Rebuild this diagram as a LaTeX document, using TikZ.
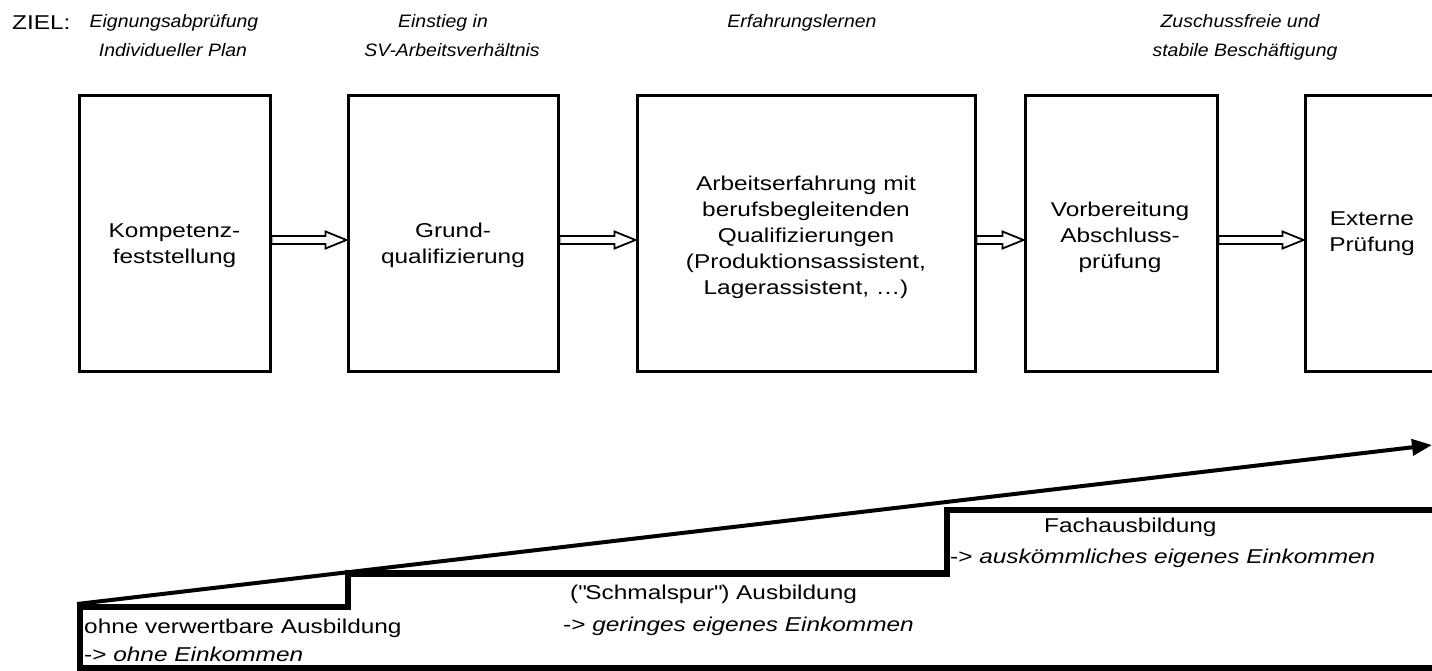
\documentclass[tikz,border=0pt]{standalone}
\usepackage{fontspec}
\setmainfont{Liberation Sans}[FakeStretch=1.22]
\newfontfamily\goalfont{Liberation Sans}[FakeStretch=1.08]
\usetikzlibrary{calc,arrows.meta}
\newcommand\hollowarrow[2]{%
  \draw[arrowbody] let \p1=(#1.east |- ay), \p2=(#2.west |- ay) in
    (\x1,\y1+4pt) -- (\x2-21pt,\y1+4pt) -- (\x2-21pt,\y1+8.5pt) -- (\x2,\y1)
    -- (\x2-21pt,\y1-8.5pt) -- (\x2-21pt,\y1-4pt) -- (\x1,\y1-4pt) -- cycle;}
\begin{document}
\begin{tikzpicture}[x=1pt,y=-1pt,
  box/.style={draw, line width=3pt, minimum height=275pt, inner sep=0pt},
  boxtext/.style={align=center, inner sep=0pt, font=\fontsize{20}{26}\selectfont},
  goal/.style={anchor=base, inner sep=0pt, font=\goalfont\fontsize{18}{20}\selectfont\itshape},
  steptext/.style={anchor=base west, inner sep=0pt, font=\fontsize{20}{26}\selectfont},
  arrowbody/.style={line width=1.8pt, line join=miter, fill=white},
  stair/.style={line width=6.5pt, line join=miter},
  rise/.style={line width=4pt, -{Triangle[length=20pt,width=16pt]}},
  ]
\useasboundingbox (0,0) rectangle (1432,671);
\fill[white] (0,0) rectangle (1432,671);
% goals
\node[anchor=base west, inner sep=0pt, font=\fontsize{20}{24}\selectfont] (ziel) at (12,30) {ZIEL:};
\node[goal] (g1a) at (174,28) {Eignungsabprüfung};
\node[goal] (g1b) at (173,57) {Individueller Plan};
\node[goal] (g2a) at (443,28) {Einstieg in};
\node[goal] (g2b) at (452,57) {SV-Arbeitsverhältnis};
\node[goal] (g3a) at (802,28) {Erfahrungslernen};
\node[goal] (g4a) at (1240,28) {Zuschussfreie und};
\node[goal] (g4b) at (1245,57) {stabile Beschäftigung};
% boxes
\node[box, minimum width=191pt] (b1) at (174.5,233.5) {};
\node[box, minimum width=210pt] (b2) at (453,233.5) {};
\node[box, minimum width=338pt] (b3) at (806,233.5) {};
\node[box, minimum width=192pt] (b4) at (1121,233.5) {};
\node[box, minimum width=140pt] (b5) at (1375,233.5) {};
\node[boxtext] (t1) at (174.5,245.5) {Kompetenz-\\feststellung};
\node[boxtext] (t2) at (453,245.5) {Grund-\\qualifizierung};
\node[boxtext] (t3) at (806,237.5) {Arbeitserfahrung mit\\berufsbegleitenden\\Qualifizierungen\\(Produktionsassistent,\\Lagerassistent, \dots)};
\node[boxtext] (t4) at (1120,237) {Vorbereitung\\Abschluss-\\prüfung};
\node[boxtext] (t5) at (1372,234) {Externe\\Prüfung};
% block arrows
\coordinate (ay) at (0,240);
\hollowarrow{b1}{b2}
\hollowarrow{b2}{b3}
\hollowarrow{b3}{b4}
\hollowarrow{b4}{b5}
% staircase
\coordinate (s1) at (1440,510);
\coordinate (s2) at (947,510);
\coordinate (s3) at (947,573.5);
\coordinate (s4) at (348,573.5);
\coordinate (s5) at (348,607);
\coordinate (s6) at (80,607);
\coordinate (s7) at (80,668);
\coordinate (s8) at (1440,668);
\draw[stair] (s1) -- (s2) -- (s3) -- (s4) -- (s5) -- (s6) -- (s7) -- (s8);
% rising arrow
\coordinate (r0) at (77,604);
\coordinate (r1) at (1432,445);
\draw[rise] (r0) -- (r1);
% stage texts
\node[steptext] (l1a) at (84,633) {ohne verwertbare Ausbildung};
\node[steptext] (l1b) at (84,661) {-> \textit{ohne Einkommen}};
\node[steptext] (l2a) at (570,599) {(\textquotedbl Schmalspur\textquotedbl) Ausbildung};
\node[steptext] (l2b) at (563,631) {-> \textit{geringes eigenes Einkommen}};
\node[steptext] (l3a) at (1044,532) {Fachausbildung};
\node[steptext] (l3b) at (950,563) {-> \textit{auskömmliches eigenes Einkommen}};
\end{tikzpicture}
\end{document}
